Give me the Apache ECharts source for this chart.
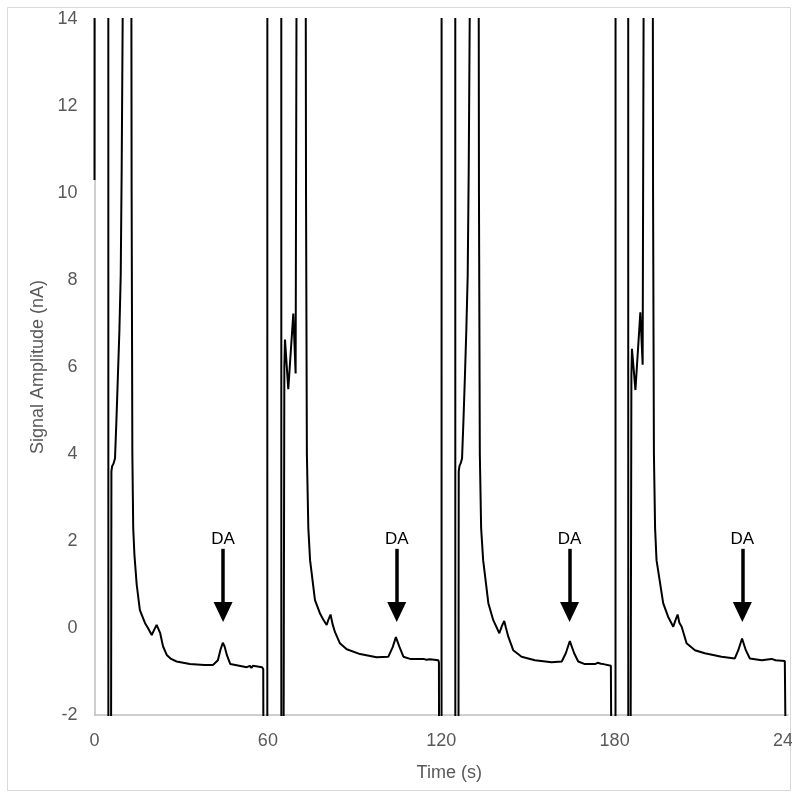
<!DOCTYPE html>
<html><head><meta charset="utf-8">
<script src="https://cdn.jsdelivr.net/npm/echarts@6.0.0/dist/echarts.min.js"></script>
<style>html,body{margin:0;padding:0;background:#fff;} #chart{position:absolute;left:0;top:0;width:792px;height:801px;}</style>
</head><body><div id="chart"></div>
<script>
// Cycle 1 (s, nA) — off-scale excursions given as 16 / -4
const c1Time   = [0.0, 0.03, 4.78, 4.80, 5.71, 5.85, 6.1, 6.6, 7.1, 7.6, 8.1, 8.6, 9.07, 9.4, 9.75, 9.85,
  12.73, 12.85, 13.1, 13.4, 13.8, 14.6, 15.7, 17.5, 18.5, 19.8, 20.6, 21.5, 22.7, 23.7, 25.0, 26.5, 28.4,
  33.0, 38.0, 41.0, 42.7, 43.6, 44.4, 45.0, 45.8, 47.0, 52.7, 53.8, 54.3, 54.8, 55.4, 58.0, 58.4, 58.5];
const c1Signal = [10.3, 16, 16, -4, -4, 3.6, 3.72, 3.78, 3.9, 4.8, 5.8, 6.8, 8.1, 10.5, 14, 16,
  16, 10, 4, 2.3, 1.7, 1.0, 0.41, 0.11, 0.0, -0.16, -0.05, 0.07, -0.11, -0.42, -0.62, -0.71, -0.77,
  -0.83, -0.85, -0.85, -0.74, -0.5, -0.34, -0.42, -0.62, -0.83, -0.9, -0.87, -0.92, -0.87, -0.9, -0.9, -0.95, -4];

// Cycle 2
const c2Time   = [59.8, 59.82, 64.64, 64.66, 65.4, 65.7, 65.92, 67.06, 68.8, 69.6, 69.97,
  73.08, 73.2, 73.5, 74.0, 74.6, 76.3, 78.0, 79.1, 80.35, 81.0, 81.7, 82.35, 83.2, 84.9, 87.3, 91.9,
  97.6, 101.7, 103.2, 104.3, 105.5, 106.9, 109.2, 113.8, 114.4, 114.9, 115.4, 116.1, 119.0, 119.2, 119.25];
const c2Signal = [-4, 16, 16, -4, -4, 6.0, 6.63, 5.49, 7.23, 5.85, 16,
  16, 10, 4, 2.3, 1.56, 0.64, 0.34, 0.2, 0.07, 0.2, 0.31, 0.1, -0.09, -0.35, -0.49, -0.6,
  -0.67, -0.66, -0.44, -0.21, -0.43, -0.66, -0.71, -0.71, -0.68, -0.73, -0.7, -0.72, -0.74, -0.8, -4];

// Cycle 3
const c3Time   = [120.1, 120.12, 124.85, 124.87, 125.95, 126.05, 126.3, 126.8, 127.2, 127.7, 128.2, 128.7, 129.15, 129.5, 129.85, 129.95,
  132.94, 133.05, 133.35, 133.8, 134.5, 136.3, 138.0, 140.1, 141.0, 141.8, 142.4, 143.2, 144.9, 147.8, 152.4,
  158.2, 161.7, 163.1, 164.5, 166.0, 167.4, 169.7, 173.2, 174.1, 174.7, 175.3, 176.1, 178.7, 178.9, 178.95];
const c3Signal = [-4, 16, 16, -4, -4, 3.6, 3.72, 3.8, 3.9, 4.8, 5.8, 6.9, 8.1, 10.5, 14, 16,
  16, 10, 4, 2.3, 1.56, 0.57, 0.18, -0.12, 0.05, 0.16, 0.0, -0.2, -0.51, -0.66, -0.74,
  -0.79, -0.77, -0.58, -0.30, -0.58, -0.77, -0.83, -0.83, -0.8, -0.84, -0.82, -0.83, -0.87, -0.9, -4];

// Cycle 4
const c4Time   = [180.3, 180.32, 184.7, 184.72, 185.5, 185.8, 186.0, 187.2, 188.9, 189.7, 190.1,
  193.2, 193.3, 193.6, 194.0, 194.5, 196.8, 198.5, 200.3, 201.0, 201.8, 202.4, 203.2, 204.9, 207.8, 211.2,
  217.0, 221.6, 222.8, 224.1, 225.4, 226.8, 230.9, 234.3, 234.9, 235.7, 238.9, 239.3, 239.35];
const c4Signal = [-4, 16, 16, -4, -4, 5.8, 6.42, 5.47, 7.26, 6.05, 16,
  16, 10, 4, 2.3, 1.56, 0.57, 0.26, 0.03, 0.17, 0.31, 0.12, 0.03, -0.35, -0.51, -0.58,
  -0.66, -0.70, -0.51, -0.24, -0.51, -0.70, -0.74, -0.71, -0.74, -0.74, -0.76, -0.78, -4];

// DA annotations
const daTimes = [44.5, 104.6, 164.4, 224.2];
const daLabel = 'DA';
const arrowTop = 1.82;
const arrowEnd = 0.37;

function pairs(t, v) { return t.map((x, i) => [x, v[i]]); }
const seriesData = [].concat(
  pairs(c1Time, c1Signal), pairs(c2Time, c2Signal),
  pairs(c3Time, c3Signal), pairs(c4Time, c4Signal));

const labelFont = 'Liberation Sans';
const chart = echarts.init(document.getElementById('chart'), null, { renderer: 'canvas' });
chart.setOption({
  animation: false,
  grid: { left: 94.5, right: 4, top: 19, bottom: 86, containLabel: false, outerBoundsMode: 'none' },
  xAxis: {
    type: 'value', min: 0, max: 240, interval: 60,
    name: 'Time (s)', nameLocation: 'middle', nameGap: 49,
    nameTextStyle: { color: '#595959', fontSize: 18, fontFamily: labelFont, padding: [0, 0, 0, 16] },
    axisLine: { onZero: false, lineStyle: { color: '#bfbfbf', width: 1.5 } },
    axisTick: { show: false }, splitLine: { show: false },
    axisLabel: { color: '#595959', fontSize: 18, margin: 17, fontFamily: labelFont }
  },
  yAxis: {
    type: 'value', min: -2, max: 14, interval: 2,
    name: 'Signal Amplitude (nA)', nameLocation: 'middle', nameGap: 45,
    nameTextStyle: { color: '#595959', fontSize: 18, fontFamily: labelFont },
    axisLine: { show: true, onZero: false, lineStyle: { color: '#bfbfbf', width: 1.5 } },
    axisTick: { show: false }, splitLine: { show: false },
    axisLabel: { color: '#595959', fontSize: 18, margin: 17, fontFamily: labelFont }
  },
  series: [{
    type: 'line', data: seriesData, showSymbol: false, symbol: 'none', clip: true, silent: true,
    lineStyle: { color: '#000', width: 2 }, itemStyle: { color: '#000' },
    markLine: {
      silent: true, animation: false,
      symbol: ['none', 'triangle'], symbolSize: [19, 20],
      lineStyle: { color: '#000', width: 3.5, type: 'solid' },
      label: { show: true, position: 'start', formatter: daLabel, color: '#000', fontSize: 17, fontFamily: labelFont, distance: 1 },
      emphasis: { disabled: true },
      data: daTimes.map(t => [{ coord: [t, arrowTop] }, { coord: [t, arrowEnd] }])
    }
  }],
  graphic: [{
    type: 'rect', silent: true, z: -1,
    shape: { x: 7.5, y: 7.5, width: 783, height: 783 },
    style: { fill: 'none', stroke: '#d9d9d9', lineWidth: 1 }
  }]
});
</script></body></html>
